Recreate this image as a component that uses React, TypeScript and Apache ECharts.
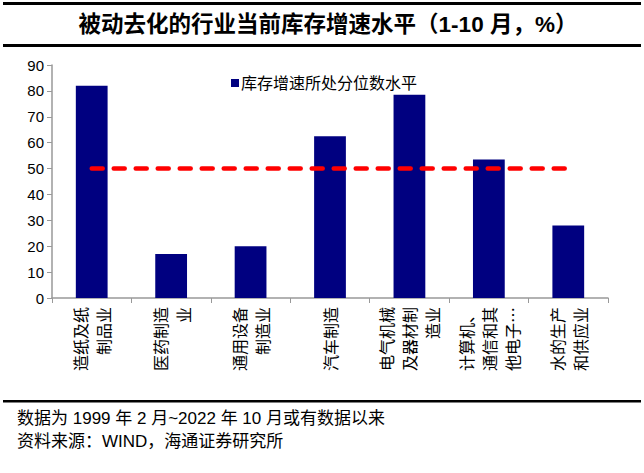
import React, { useEffect, useRef } from "react";
import * as echarts from "echarts";

const categories = [
  "造纸及纸\n制品业",
  "医药制造\n业",
  "通用设备\n制造业",
  "汽车制造",
  "电气机械\n及器材制\n造业",
  "计算机、\n通信和其\n他电子…",
  "水的生产\n和供应业",
];
const percentileValues = [82, 17, 20, 62.5, 78.5, 53.5, 28];
const referenceValues = [50, 50, 50, 50, 50, 50, 50];
const yTicks = { min: 0, max: 90, interval: 10 };

const seriesName = "库存增速所处分位数水平";
const titleText = "被动去化的行业当前库存增速水平（1-10 月，%）";
const note1 = "数据为 1999 年 2 月~2022 年 10 月或有数据以来";
const note2 = "资料来源：WIND，海通证券研究所";

export default function App() {
  const ref = useRef<HTMLDivElement>(null);
  useEffect(() => {
    if (!ref.current) return;
    const chart = echarts.init(ref.current, undefined, { renderer: "svg" });
    const cjk = "'Liberation Sans', 'Noto Sans CJK SC', sans-serif";
    chart.setOption({
      animation: false,
      backgroundColor: "#ffffff",
      grid: { left: 52, right: 36, top: 65, bottom: 175, containLabel: false },
      legend: {
        data: [seriesName],
        left: 226,
        top: 70,
        itemWidth: 8,
        itemHeight: 8,
        icon: "rect",
        itemGap: 4,
        textStyle: { fontSize: 16, color: "#000", fontFamily: cjk, padding: [0, 0, 0, -3] },
      },
      graphic: [
        { type: "rect", shape: { x: 3, y: 2, width: 638, height: 3 }, style: { fill: "#000" } },
        { type: "rect", shape: { x: 3, y: 44, width: 638, height: 3 }, style: { fill: "#000" } },
        { type: "rect", shape: { x: 3, y: 400, width: 638, height: 2.5 }, style: { fill: "#000" } },
        {
          type: "text",
          x: 328,
          y: 24,
          style: {
            text: titleText,
            fontSize: 22.5,
            fontWeight: "bold",
            fontFamily: cjk,
            fill: "#000",
            align: "center",
            verticalAlign: "middle",
          },
        },
        {
          type: "text",
          x: 17,
          y: 418,
          style: { text: note1, fontSize: 17, fontFamily: cjk, fill: "#000", verticalAlign: "middle" },
        },
        {
          type: "text",
          x: 17,
          y: 441,
          style: { text: note2, fontSize: 17, fontFamily: cjk, fill: "#000", verticalAlign: "middle" },
        },
      ],
      xAxis: {
        type: "category",
        data: categories,
        boundaryGap: true,
        axisLine: { show: true, lineStyle: { color: "#999", width: 1.5 } },
        axisTick: { show: true, alignWithLabel: false, length: 5, lineStyle: { color: "#999" } },
        axisLabel: {
          rotate: 90,
          interval: 0,
          fontSize: 16,
          lineHeight: 23,
          margin: 9,
          color: "#000",
          fontFamily: "'Noto Sans CJK SC', sans-serif",
        },
        splitLine: { show: false },
      },
      yAxis: {
        type: "value",
        min: yTicks.min,
        max: yTicks.max,
        interval: yTicks.interval,
        axisLine: { show: true, lineStyle: { color: "#999", width: 1.5 } },
        axisTick: { show: true, length: 5, lineStyle: { color: "#999" } },
        axisLabel: { fontSize: 15, color: "#000", fontFamily: "'Liberation Sans', sans-serif", margin: 8 },
        splitLine: { show: false },
      },
      series: [
        {
          name: seriesName,
          type: "bar",
          data: percentileValues,
          barWidth: "40%",
          itemStyle: { color: "#000080" },
        },
        {
          name: "参考线",
          type: "line",
          data: referenceValues,
          symbol: "none",
          lineStyle: { color: "#ff0000", width: 4.5, type: [11, 11], cap: "round" },
          z: 5,
        },
      ],
    });
    return () => chart.dispose();
  }, []);
  return (
    <div
      ref={ref}
      style={{ position: "absolute", left: 0, top: 0, width: 644, height: 473, background: "#fff" }}
    />
  );
}
